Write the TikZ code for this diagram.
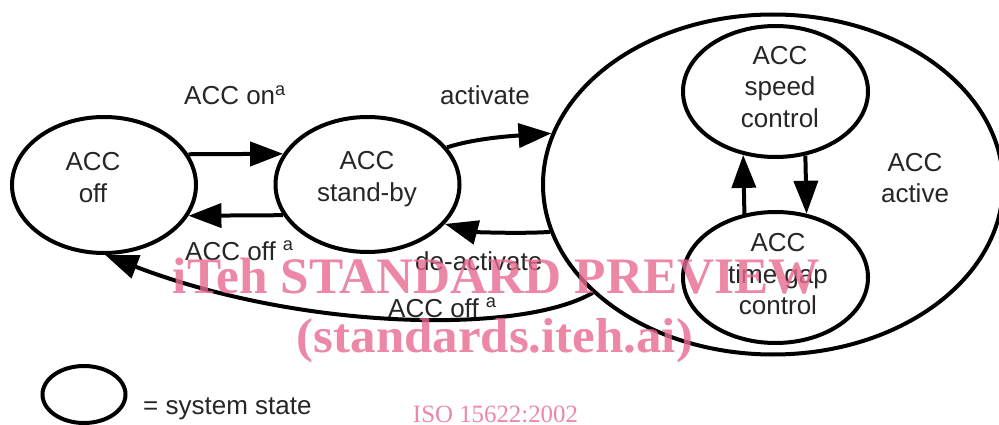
\documentclass[tikz,border=0pt]{standalone}
\usepackage{fontspec}
\setmainfont{Liberation Sans}
\newfontfamily\wmfont{Liberation Serif}
\usetikzlibrary{arrows.meta,shapes.geometric}
\definecolor{ink}{HTML}{262626}
\definecolor{wmpink}{RGB}{231,105,143}
\newcommand{\supa}{\textsuperscript{a}}

\begin{document}
\begin{tikzpicture}[x=1pt,y=-1pt,
  state/.style={draw=black, line width=4pt, ellipse, inner sep=0pt},
  lbl/.style={text=ink, font=\fontsize{26}{31.5}\selectfont, align=center, inner sep=0pt},
  tlbl/.style={text=ink, font=\fontsize{26}{31}\selectfont, inner sep=0pt, anchor=base west},
  arr/.style={draw=black, line width=4pt, -{Triangle[length=33pt,width=24pt]}},
  wm/.style={text=wmpink, text opacity=0.8, font=\wmfont\bfseries\fontsize{49}{49}\selectfont, inner sep=0pt, anchor=base},
  isolbl/.style={text=wmpink, text opacity=0.8, font=\wmfont\fontsize{24}{24}\selectfont, inner sep=0pt, anchor=base}]
\useasboundingbox (0,0) rectangle (999,425);

% states
\node[state, minimum width=184pt, minimum height=136pt] (off) at (104,185) {};
\node[state, minimum width=184pt, minimum height=135pt] (sb) at (367.5,184.5) {};
\node[state, minimum width=460pt, minimum height=340pt] (act) at (773,184.5) {};
\node[state, minimum width=185pt, minimum height=131pt] (sp) at (775.5,91.5) {};
\node[state, minimum width=185pt, minimum height=131pt] (tg) at (775.5,277.5) {};

% state names
\node[lbl] (offT) at (93,177.7) {ACC\\off};
\node[lbl] (sbT) at (367,179) {ACC\\stand-by};
\node[lbl] (spT) at (780,87) {ACC\\speed\\control};
\node[lbl] (tgT) at (778,274.5) {ACC\\time gap\\control};
\node[lbl] (actT) at (915,178) {ACC\\active};

% transitions
\draw[arr] (off.20.4) -- (sb.160.2);
\draw[arr] (sb.200.2) -- (off.340.8);
\draw[arr] (sb.25.5) .. controls +(30,-10) and +(-30,2) .. (act.167);
\draw[arr] (act.192.65) .. controls +(-30,2) and +(30,8) .. (sb.333.6);
\draw[arr] (tg.116) -- (sp.243);
\draw[arr] (sp.295.7) -- (tg.64);
\draw[arr] (act.211.9) .. controls (520,335) and (300,330) .. (off.271);

% transition labels
\node[tlbl] (onL) at (184,105) {ACC on\supa};
\node[tlbl] (actL) at (440,105) {activate};
\node[tlbl] (offL1) at (185,260) {ACC off \supa};
\node[tlbl] (deL) at (415,270) {de-activate};
\node[tlbl] (offL2) at (388,317) {ACC off \supa};

% legend
\node[state, minimum width=83pt, minimum height=57pt] (leg) at (84,394.5) {};
\node[tlbl] (legT) at (143,414) {= system state};

% watermark
\node[wm] (wm1) at (496.5,293) {\resizebox{647pt}{35.5pt}{iTeh STANDARD PREVIEW}};
\node[wm] (wm2) at (495,352) {\resizebox{396pt}{34pt}{(standards.iteh.ai)}};
\node[isolbl] (iso) at (495.5,422) {\resizebox{165pt}{!}{ISO 15622:2002}};
\end{tikzpicture}
\end{document}
